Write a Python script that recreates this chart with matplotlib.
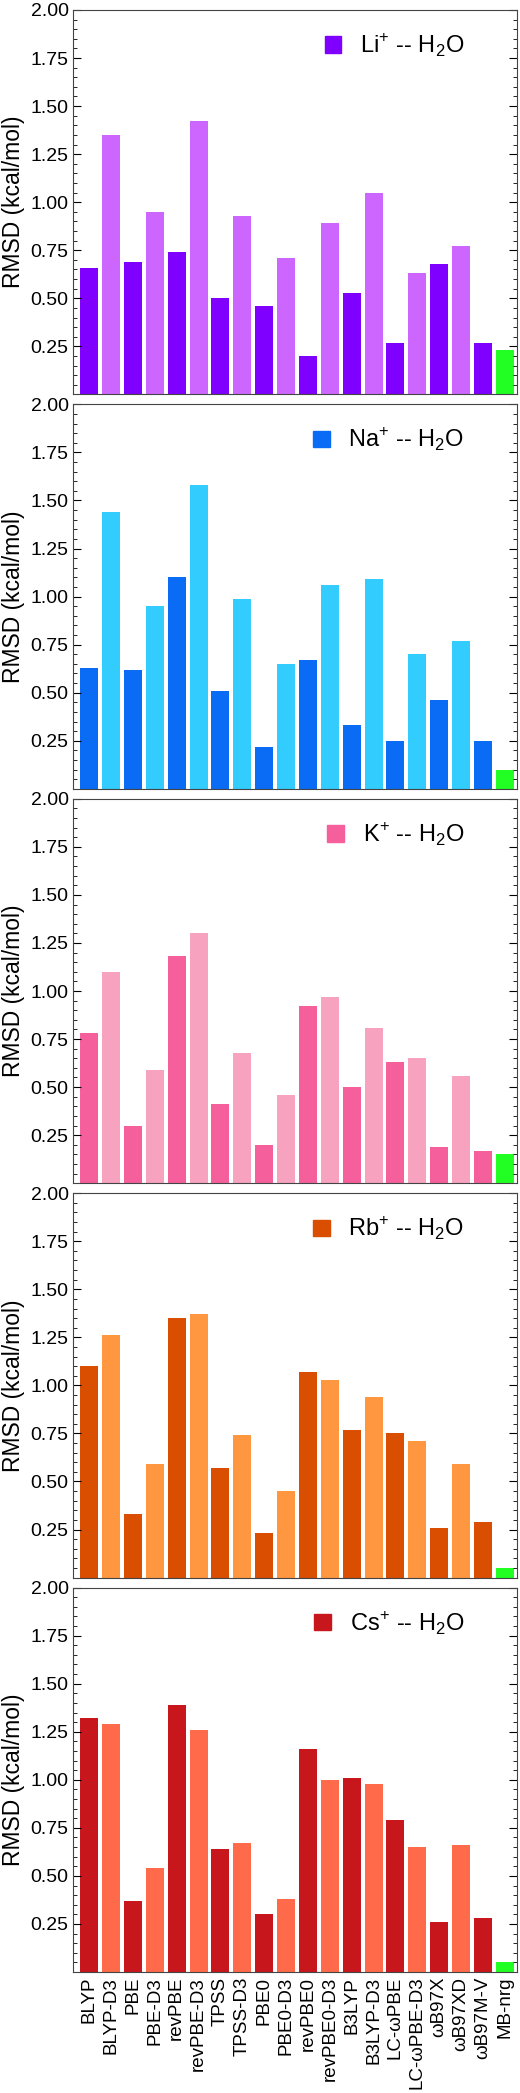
import matplotlib
matplotlib.use("Agg")
import matplotlib.pyplot as plt
from matplotlib.ticker import MultipleLocator
from matplotlib.patches import Patch

plt.rcParams['font.family'] = ['Liberation Sans', 'DejaVu Sans']
plt.rcParams['mathtext.fontset'] = 'custom'
plt.rcParams['mathtext.rm'] = 'Liberation Sans'

methods = ["BLYP", "BLYP-D3", "PBE", "PBE-D3", "revPBE", "revPBE-D3", "TPSS", "TPSS-D3",
           "PBE0", "PBE0-D3", "revPBE0", "revPBE0-D3", "B3LYP", "B3LYP-D3", "LC-ωPBE",
           "LC-ωPBE-D3", "ωB97X", "ωB97XD", "ωB97M-V", "MB-nrg"]

li = [0.66, 1.35, 0.69, 0.95, 0.74, 1.42, 0.50, 0.93, 0.46, 0.71, 0.20, 0.89, 0.53, 1.05, 0.27, 0.63, 0.68, 0.77, 0.27, 0.23]
na = [0.63, 1.44, 0.62, 0.95, 1.10, 1.58, 0.51, 0.99, 0.22, 0.65, 0.67, 1.06, 0.33, 1.09, 0.25, 0.70, 0.46, 0.77, 0.25, 0.10]
k = [0.78, 1.10, 0.30, 0.59, 1.18, 1.30, 0.41, 0.68, 0.20, 0.46, 0.92, 0.97, 0.50, 0.81, 0.63, 0.65, 0.19, 0.56, 0.17, 0.15]
rb = [1.10, 1.26, 0.33, 0.59, 1.35, 1.37, 0.57, 0.74, 0.23, 0.45, 1.07, 1.03, 0.77, 0.94, 0.75, 0.71, 0.26, 0.59, 0.29, 0.05]
cs = [1.32, 1.29, 0.37, 0.54, 1.39, 1.26, 0.64, 0.67, 0.30, 0.38, 1.16, 1.00, 1.01, 0.98, 0.79, 0.65, 0.26, 0.66, 0.28, 0.05]

panels = [
    (li, "Li", "#7f00ff", "#cc66ff"),
    (na, "Na", "#0a6cf5", "#33ccff"),
    (k, "K", "#f5609c", "#f7a3c0"),
    (rb, "Rb", "#d94e00", "#ff9640"),
    (cs, "Cs", "#c8161d", "#ff6a4a"),
]
green = "#22ff22"

fig, axes = plt.subplots(5, 1, figsize=(5.2, 20.93), dpi=100, sharex=True)
fig.subplots_adjust(left=0.14, right=0.994, top=1 - 10 / 2093, bottom=1 - 1972 / 2093, hspace=10 / 385)

x = list(range(len(methods)))
for ax, (vals, ion, dark, light) in zip(axes, panels):
    colors = [dark if i % 2 == 0 else light for i in range(len(vals) - 1)] + [green]
    ax.bar(x, vals, width=0.82, color=colors)
    ax.set_xlim(-0.75, len(methods) - 0.45)
    ax.set_ylim(0, 2.0)
    ax.yaxis.set_minor_locator(MultipleLocator(0.05))
    ax.set_yticks([0.25, 0.5, 0.75, 1.0, 1.25, 1.5, 1.75, 2.0])
    ax.set_yticklabels(["0.25", "0.50", "0.75", "1.00", "1.25", "1.50", "1.75", "2.00"])
    ax.tick_params(axis='y', which='both', direction='in', right=True, labelsize=14, pad=3)
    ax.tick_params(axis='y', which='major', length=6)
    ax.tick_params(axis='y', which='minor', length=3)
    ax.tick_params(axis='x', length=0, labelsize=13.5)
    ax.set_ylabel("RMSD (kcal/mol)", fontsize=16.5, labelpad=4)
    for s in ax.spines.values():
        s.set_color("#444444")
    ax.legend(handles=[Patch(color=dark)], labels=[ion + "$^{+}$ -- H$_2$O"], loc="upper right",
              frameon=False, fontsize=17, handlelength=0.7, handleheight=0.7, borderaxespad=0.5,
              handletextpad=0.8, bbox_to_anchor=(0.93, 1.0))

axes[-1].set_xticks(x)
axes[-1].set_xticklabels(methods, rotation=90)

fig.savefig("out.png", dpi=100)
